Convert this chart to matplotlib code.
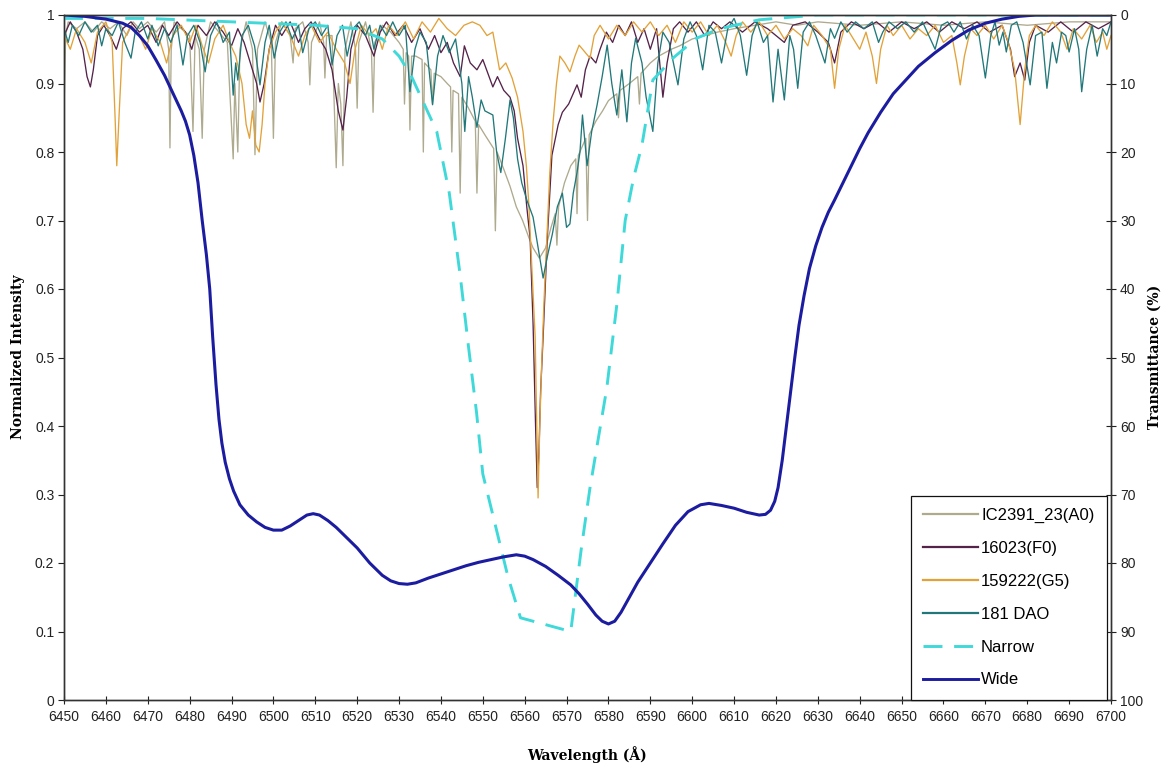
import matplotlib
matplotlib.use("Agg")
import matplotlib.pyplot as plt

# ---------------- data ----------------
# IC2391_23(A0): (wavelength Å, normalized intensity)
ic2391_a0 = [
    (6450, 0.86), (6450.4, 0.97), (6451, 0.99), (6453, 0.98), (6455, 0.99), (6457, 0.975),
    (6459, 0.99), (6461, 0.98), (6463, 0.99), (6465, 0.97), (6466.5, 0.99), (6468, 0.98),
    (6470, 0.99), (6472, 0.975), (6474, 0.99), (6475, 0.95), (6475.3, 0.806), (6475.6, 0.95),
    (6476.3, 0.99), (6478, 0.98), (6480, 0.97), (6480.8, 0.83), (6481.3, 0.97), (6482.3, 0.95),
    (6483, 0.82), (6483.5, 0.95), (6485, 0.99), (6487, 0.975), (6489, 0.96), (6490.4, 0.79),
    (6490.8, 0.9), (6491.5, 0.8), (6492, 0.95), (6493.5, 0.99), (6495, 0.95), (6495.6, 0.796),
    (6496.2, 0.95), (6498, 0.99), (6499.5, 0.96), (6500, 0.82), (6500.5, 0.96), (6502, 0.99),
    (6504, 0.97), (6504.7, 0.93), (6505.2, 0.98), (6507, 0.99), (6508.3, 0.96), (6508.7, 0.898),
    (6509.1, 0.96), (6511, 0.99), (6512, 0.96), (6512.3, 0.908), (6512.7, 0.97), (6514, 0.97),
    (6515, 0.777), (6515.5, 0.9), (6516.1, 0.87), (6516.6, 0.78), (6517.1, 0.95), (6518.5, 0.99),
    (6519.6, 0.95), (6520, 0.864), (6520.4, 0.96), (6522, 0.99), (6523.4, 0.95), (6523.8, 0.858),
    (6524.2, 0.96), (6526, 0.985), (6528, 0.975), (6530, 0.96), (6531, 0.95), (6531.3, 0.87),
    (6531.7, 0.945), (6532.3, 0.94), (6532.6, 0.832), (6533, 0.94), (6534, 0.94), (6535.5, 0.935),
    (6535.8, 0.80), (6536.1, 0.93), (6537.6, 0.92), (6538, 0.87), (6538.4, 0.915), (6540, 0.91),
    (6541.5, 0.9), (6542.3, 0.895), (6542.6, 0.80), (6542.9, 0.89), (6544.2, 0.885), (6544.6, 0.74),
    (6545, 0.88), (6546.5, 0.865), (6548.2, 0.845), (6548.6, 0.74), (6549, 0.84), (6550.5, 0.825),
    (6552.6, 0.805), (6553, 0.685), (6553.4, 0.80), (6555, 0.775), (6556.5, 0.75), (6558, 0.72),
    (6559.5, 0.70), (6561, 0.675), (6562, 0.66), (6563.5, 0.645), (6565, 0.66), (6566.3, 0.69),
    (6567.3, 0.71), (6567.7, 0.664), (6568.1, 0.72), (6569.5, 0.755), (6571, 0.78), (6572.2, 0.79),
    (6572.5, 0.71), (6572.8, 0.795), (6574.6, 0.82), (6575, 0.70), (6575.4, 0.825), (6577, 0.845),
    (6578.6, 0.86), (6580, 0.875), (6582, 0.885), (6582.4, 0.85), (6582.8, 0.89), (6585, 0.9),
    (6587, 0.91), (6587.4, 0.87), (6587.8, 0.915), (6590, 0.93), (6592, 0.94), (6595, 0.95),
    (6597, 0.955), (6600, 0.965), (6603, 0.97), (6606, 0.975), (6610, 0.98), (6615, 0.985),
    (6620, 0.99), (6625, 0.985), (6630, 0.99), (6640, 0.985), (6650, 0.99), (6660, 0.985),
    (6670, 0.99), (6680, 0.985), (6690, 0.99), (6700, 0.99),
]

# 16023(F0)
hd16023_f0 = [
    (6450, 0.97), (6451.5, 0.99), (6453, 0.975), (6454.5, 0.95), (6455.5, 0.91), (6456.3, 0.895),
    (6457, 0.92), (6458, 0.97), (6459.5, 0.985), (6461, 0.97), (6462.5, 0.95), (6464, 0.98),
    (6466, 0.99), (6468, 0.975), (6470, 0.985), (6472, 0.96), (6473.5, 0.985), (6475, 0.97),
    (6477, 0.99), (6479, 0.975), (6480.5, 0.95), (6482, 0.985), (6484, 0.97), (6486, 0.99),
    (6488, 0.975), (6490, 0.955), (6491.5, 0.98), (6493, 0.96), (6494.5, 0.93), (6496, 0.9),
    (6496.8, 0.873), (6497.8, 0.9), (6499, 0.95), (6500.5, 0.985), (6502, 0.97), (6504, 0.99),
    (6506, 0.96), (6507.5, 0.98), (6509, 0.99), (6511, 0.965), (6512.5, 0.95), (6514, 0.92),
    (6515.5, 0.86), (6516.6, 0.832), (6517.5, 0.88), (6518.5, 0.95), (6520, 0.985), (6522, 0.97),
    (6524, 0.94), (6525.5, 0.975), (6527, 0.99), (6529, 0.97), (6531, 0.985), (6533, 0.96),
    (6535, 0.98), (6537, 0.95), (6538.5, 0.97), (6540, 0.945), (6541.5, 0.96), (6543, 0.93),
    (6544.6, 0.91), (6545.6, 0.955), (6547, 0.93), (6548.6, 0.92), (6550, 0.935), (6551.5, 0.91),
    (6552.4, 0.895), (6553.5, 0.91), (6555, 0.89), (6556.5, 0.88), (6557.5, 0.86), (6558.3, 0.82),
    (6559.6, 0.78), (6560.5, 0.72), (6561.3, 0.674), (6562, 0.55), (6562.6, 0.4), (6563, 0.31),
    (6563.4, 0.36), (6563.8, 0.45), (6564.4, 0.53), (6565.4, 0.674), (6566.5, 0.795), (6568, 0.84),
    (6569, 0.858), (6570.5, 0.87), (6572.5, 0.898), (6573.5, 0.88), (6574.5, 0.92), (6575.6, 0.94),
    (6577, 0.93), (6578, 0.95), (6579.5, 0.975), (6581, 0.96), (6582.5, 0.985), (6584, 0.97),
    (6585.5, 0.99), (6587, 0.96), (6588.5, 0.98), (6590, 0.95), (6591.5, 0.98), (6593, 0.88),
    (6594, 0.93), (6595.5, 0.98), (6597, 0.99), (6599, 0.975), (6601, 0.99), (6603, 0.97),
    (6605, 0.99), (6607, 0.98), (6609, 0.99), (6612, 0.975), (6615, 0.99), (6618, 0.98),
    (6620, 0.97), (6622, 0.96), (6624, 0.985), (6627, 0.99), (6630, 0.975), (6632.5, 0.96),
    (6634, 0.93), (6635.5, 0.975), (6638, 0.99), (6641, 0.98), (6644, 0.99), (6647, 0.975),
    (6650, 0.99), (6653, 0.98), (6656, 0.99), (6659, 0.975), (6662, 0.99), (6665, 0.98),
    (6668, 0.99), (6671, 0.975), (6674, 0.985), (6676, 0.95), (6677, 0.91), (6678.3, 0.93),
    (6679.4, 0.905), (6680.5, 0.96), (6682, 0.985), (6685, 0.975), (6688, 0.99), (6691, 0.975),
    (6694, 0.99), (6697, 0.98), (6700, 0.99),
]

# 159222(G5)
hd159222_g5 = [
    (6450, 0.97), (6451.5, 0.95), (6453, 0.98), (6455, 0.96), (6456.5, 0.93), (6458, 0.975),
    (6460, 0.99), (6461.5, 0.96), (6462.2, 0.85), (6462.6, 0.78), (6463.2, 0.86), (6464, 0.96),
    (6466, 0.985), (6468, 0.97), (6469.5, 0.95), (6471, 0.98), (6473, 0.96), (6474.5, 0.93),
    (6476, 0.97), (6478, 0.985), (6480, 0.96), (6481.5, 0.985), (6483, 0.955), (6484.5, 0.93),
    (6486, 0.965), (6488, 0.985), (6489.5, 0.96), (6491, 0.94), (6492.5, 0.9), (6493.5, 0.84),
    (6494.3, 0.82), (6495, 0.86), (6495.8, 0.81), (6496.6, 0.80), (6497.3, 0.84), (6498, 0.9),
    (6499, 0.95), (6500.5, 0.975), (6502, 0.99), (6504, 0.97), (6506, 0.94), (6507.5, 0.97),
    (6509, 0.985), (6511, 0.96), (6513, 0.975), (6515, 0.95), (6517, 0.93), (6518.3, 0.90),
    (6519.5, 0.95), (6521, 0.985), (6523, 0.97), (6524.5, 0.98), (6526, 0.95), (6527.5, 0.985),
    (6529.5, 0.97), (6531.5, 0.99), (6533.5, 0.965), (6535.5, 0.99), (6537.5, 0.975),
    (6539.5, 0.995), (6541.5, 0.98), (6543.5, 0.97), (6545.5, 0.985), (6547.5, 0.99),
    (6549.3, 0.985), (6551, 0.97), (6552.4, 0.975), (6554, 0.92), (6555.5, 0.93), (6557, 0.908),
    (6558.3, 0.88), (6559.6, 0.83), (6560.4, 0.78), (6561, 0.723), (6561.8, 0.62), (6562.5, 0.53),
    (6563.2, 0.295), (6563.6, 0.40), (6564, 0.48), (6564.6, 0.58), (6565.3, 0.674), (6566, 0.77),
    (6566.8, 0.845), (6567.6, 0.9), (6568.4, 0.94), (6569.6, 0.93), (6570.8, 0.917), (6572, 0.94),
    (6573, 0.956), (6574.5, 0.945), (6575.6, 0.937), (6576.6, 0.97), (6578, 0.985), (6580, 0.965),
    (6582, 0.985), (6584, 0.97), (6586, 0.99), (6588, 0.975), (6590, 0.99), (6592, 0.97),
    (6594, 0.985), (6596, 0.96), (6598, 0.99), (6600, 0.975), (6602, 0.99), (6604, 0.97),
    (6606, 0.985), (6608, 0.96), (6609.3, 0.94), (6610.5, 0.97), (6612, 0.99), (6614, 0.975),
    (6616, 0.99), (6618, 0.97), (6620, 0.985), (6622, 0.965), (6624, 0.98), (6626, 0.97),
    (6627.6, 0.955), (6629, 0.985), (6631, 0.97), (6633, 0.95), (6634, 0.893), (6635, 0.95),
    (6636.5, 0.985), (6638, 0.97), (6640, 0.95), (6641.5, 0.975), (6643, 0.94), (6644, 0.90),
    (6645, 0.95), (6646.5, 0.985), (6648, 0.97), (6650, 0.985), (6652, 0.965), (6654, 0.98),
    (6656, 0.97), (6658, 0.985), (6660, 0.96), (6662, 0.97), (6663.2, 0.93), (6664, 0.898),
    (6665, 0.94), (6666.5, 0.98), (6668, 0.97), (6670, 0.985), (6672, 0.965), (6674, 0.985),
    (6675.5, 0.96), (6677, 0.92), (6678.3, 0.84), (6679.4, 0.92), (6680.5, 0.97), (6682, 0.985),
    (6684, 0.97), (6686, 0.99), (6688, 0.975), (6689.5, 0.95), (6691, 0.98), (6693, 0.965),
    (6695, 0.985), (6696.5, 0.96), (6698, 0.975), (6699, 0.95), (6700, 0.97),
]

# 181 DAO
dao_181 = [
    (6450, 0.98), (6451, 0.96), (6452, 0.985), (6453.5, 0.97), (6455, 0.99), (6456.5, 0.975),
    (6458, 0.985), (6459, 0.955), (6460, 0.98), (6461.5, 0.97), (6463, 0.99), (6464.5, 0.96),
    (6466, 0.937), (6467, 0.975), (6468.5, 0.99), (6470, 0.965), (6471, 0.985), (6472.5, 0.955),
    (6474, 0.98), (6475.5, 0.96), (6477, 0.985), (6478.4, 0.927), (6479.5, 0.97), (6481, 0.985),
    (6482.5, 0.96), (6483.7, 0.917), (6485, 0.97), (6486.5, 0.99), (6488, 0.96), (6489.5, 0.975),
    (6490.4, 0.883), (6491, 0.93), (6491.5, 0.905), (6492.5, 0.97), (6494, 0.985), (6495.5, 0.955),
    (6496.8, 0.898), (6498, 0.96), (6499, 0.985), (6500.2, 0.937), (6501.5, 0.975), (6503, 0.99),
    (6504.5, 0.965), (6506, 0.985), (6507, 0.945), (6508.5, 0.98), (6510, 0.99), (6511.5, 0.97),
    (6513, 0.985), (6514, 0.927), (6515.2, 0.97), (6516.5, 0.985), (6517.6, 0.94), (6519, 0.98),
    (6520.5, 0.99), (6522, 0.97), (6523, 0.985), (6524, 0.95), (6525.5, 0.985), (6527, 0.97),
    (6528.5, 0.99), (6530, 0.97), (6531.5, 0.985), (6532.6, 0.888), (6533.8, 0.95), (6535, 0.975),
    (6536.5, 0.96), (6538, 0.869), (6539.2, 0.94), (6540.5, 0.97), (6542, 0.945), (6543.5, 0.965),
    (6545, 0.9), (6545.7, 0.83), (6546.6, 0.91), (6547.5, 0.88), (6548.6, 0.836), (6549.6, 0.876),
    (6550.5, 0.86), (6552.4, 0.854), (6553.3, 0.8), (6554.3, 0.77), (6555.4, 0.82), (6556.5, 0.876),
    (6557.3, 0.85), (6558.3, 0.79), (6559.3, 0.755), (6560.5, 0.73), (6562, 0.705), (6563.2, 0.66),
    (6564.4, 0.616), (6565.5, 0.65), (6566.6, 0.68), (6567.8, 0.72), (6569, 0.74), (6570, 0.69),
    (6570.8, 0.695), (6571.6, 0.74), (6572.5, 0.77), (6573.2, 0.80), (6573.8, 0.854), (6574.9, 0.78),
    (6576, 0.83), (6577.3, 0.869), (6578.5, 0.91), (6579.7, 0.956), (6580.8, 0.9), (6582, 0.854),
    (6583.2, 0.92), (6584.4, 0.844), (6585.5, 0.93), (6586.5, 0.966), (6588, 0.93), (6589, 0.88),
    (6590.6, 0.83), (6591.8, 0.93), (6593, 0.975), (6594.5, 0.96), (6596.6, 0.898), (6598, 0.965),
    (6599.5, 0.99), (6601, 0.97), (6602.5, 0.92), (6604, 0.985), (6605.5, 0.975), (6607, 0.93),
    (6608.5, 0.98), (6610, 0.995), (6611.5, 0.97), (6613, 0.912), (6614.3, 0.97), (6615.5, 0.99),
    (6617, 0.96), (6618, 0.97), (6619.3, 0.873), (6620.5, 0.95), (6622, 0.876), (6623.3, 0.97),
    (6624.2, 0.95), (6625.2, 0.893), (6626.5, 0.975), (6628, 0.99), (6629.5, 0.97), (6631.7, 0.93),
    (6633, 0.98), (6634, 0.966), (6635.5, 0.99), (6637, 0.975), (6639, 0.99), (6641, 0.98),
    (6643, 0.99), (6644.5, 0.96), (6645.5, 0.975), (6647, 0.99), (6649, 0.98), (6651, 0.99),
    (6653, 0.975), (6655, 0.99), (6656.5, 0.97), (6658, 0.95), (6659.5, 0.985), (6661, 0.99),
    (6662.5, 0.975), (6664, 0.99), (6665.5, 0.965), (6667, 0.985), (6668.5, 0.97), (6670, 0.908),
    (6671.3, 0.97), (6672.3, 0.99), (6673.3, 0.956), (6674.2, 0.975), (6675, 0.946), (6676.2, 0.985),
    (6677.5, 0.99), (6679, 0.96), (6680.7, 0.898), (6682, 0.97), (6683.5, 0.975), (6684.7, 0.893),
    (6686, 0.96), (6687, 0.93), (6688.2, 0.975), (6689.2, 0.97), (6690, 0.946), (6691.3, 0.98),
    (6692.3, 0.95), (6693, 0.888), (6694.2, 0.95), (6695.5, 0.985), (6696.7, 0.94), (6698, 0.98),
    (6699, 0.97), (6700, 0.99),
]

# Filters: (wavelength Å, transmittance %) on the reversed right axis
narrow_filter = [
    (6450, 0.5), (6470, 0.5), (6490, 1), (6510, 1.5), (6520, 2), (6526, 3.5), (6530, 6),
    (6533, 9), (6536, 13), (6539, 17), (6542, 26), (6544.6, 38), (6546.5, 48), (6548.5, 58),
    (6550, 67), (6552, 72), (6554, 77), (6556, 82), (6559, 88), (6571, 90), (6573.5, 78),
    (6575.6, 69), (6579.6, 54.5), (6582, 42.3), (6584, 30), (6586, 23.8), (6588, 19),
    (6590.6, 9.5), (6595.4, 6.3), (6601, 3.4), (6606.6, 2), (6616, 0.7), (6630, 0), (6700, 0),
]

wide_filter = [
    (6450, 0), (6455, 0.2), (6460, 0.6), (6464, 1.2), (6466, 1.8), (6468, 3.0), (6470, 4.5),
    (6472, 6.6), (6474, 8.8), (6476, 11.4), (6477, 12.7), (6478, 14), (6479, 15.5),
    (6480, 17.5), (6481, 20.5), (6482, 24.5), (6483, 30), (6484, 35), (6484.8, 40),
    (6485.5, 47), (6486.3, 54), (6487, 59), (6487.7, 62.5), (6488.5, 65.3), (6489.5, 67.7),
    (6490.5, 69.5), (6492, 71.5), (6494, 73), (6496, 74), (6498, 74.8), (6500, 75.2),
    (6502, 75.2), (6504, 74.6), (6506, 73.8), (6508, 73), (6509.5, 72.8), (6511, 73),
    (6513, 73.8), (6515, 74.8), (6517, 76), (6520, 77.8), (6523, 80), (6526, 81.8), (6528, 82.6),
    (6530, 83), (6532, 83.1), (6534, 82.9), (6537, 82.2), (6540, 81.6), (6543, 81), (6546, 80.4),
    (6549, 79.9), (6552, 79.5), (6555, 79.1), (6558, 78.8), (6560, 79), (6562, 79.5),
    (6565, 80.5), (6568, 81.8), (6571, 83.2), (6573, 84.5), (6575, 86), (6577, 87.6),
    (6578.5, 88.5), (6580, 88.9), (6581.5, 88.5), (6583, 87.2), (6585, 85), (6587, 82.8),
    (6590, 80), (6593, 77.2), (6596, 74.5), (6599, 72.5), (6602, 71.5), (6604, 71.3),
    (6607, 71.6), (6610, 72), (6613, 72.6), (6616, 73), (6617.5, 72.9), (6618.7, 72.3),
    (6619.7, 71), (6620.5, 69), (6621.5, 65), (6622.5, 60), (6623.5, 55), (6624.5, 50),
    (6625.5, 45.3), (6626.7, 41), (6628, 37), (6629.5, 33.7), (6631, 31), (6632.5, 28.8),
    (6634, 27), (6636, 24.5), (6638, 22), (6640, 19.5), (6642, 17.2), (6645, 14.2),
    (6648, 11.5), (6651, 9.5), (6654, 7.5), (6658, 5.5), (6662, 3.7), (6666, 2.2),
    (6670, 1.2), (6674, 0.6), (6678, 0.2), (6682, 0), (6700, 0),
]

series_labels = ["IC2391_23(A0)", "16023(F0)", "159222(G5)", "181 DAO"]
filter_labels = ["Narrow", "Wide"]
x_ticks = list(range(6450, 6701, 10))
y_ticks = [0, 0.1, 0.2, 0.3, 0.4, 0.5, 0.6, 0.7, 0.8, 0.9, 1]
y_tick_labels = ["0", "0.1", "0.2", "0.3", "0.4", "0.5", "0.6", "0.7", "0.8", "0.9", "1"]
t_ticks = list(range(0, 101, 10))

# ---------------- styles ----------------
spec_colors = ["#aeaa8e", "#55234a", "#e2a23a", "#21787a"]
narrow_color = "#3fd9d9"
wide_color = "#1c1ca0"
tick_font = {"family": "Liberation Sans", "size": 10}

W, H = 1170, 772
fig = plt.figure(figsize=(W / 100, H / 100), dpi=100)
L, R, B, T = 64, 1111, 700, 15
ax = fig.add_axes([L / W, 1 - B / H, (R - L) / W, (B - T) / H])

handles = []
for data, lab, col in zip([ic2391_a0, hd16023_f0, hd159222_g5, dao_181], series_labels, spec_colors):
    xs = [p[0] for p in data]
    ys = [p[1] for p in data]
    h, = ax.plot(xs, ys, color=col, lw=0.95, label=lab)
    handles.append(h)

ax.set_xlim(6450, 6700)
ax.set_ylim(0, 1)
ax.set_xticks(x_ticks)
ax.set_xticklabels([str(v) for v in x_ticks], fontdict=tick_font)
ax.set_yticks(y_ticks)
ax.set_yticklabels(y_tick_labels, fontdict=tick_font)
ax.tick_params(axis="x", direction="inout", length=6, width=0.8, pad=4, colors="#222222")
ax.tick_params(axis="y", direction="out", length=4, width=0.8, pad=3, colors="#222222")
for s in ax.spines.values():
    s.set_color("#333333")
    s.set_linewidth(1.0)

ax2 = ax.twinx()
xs = [p[0] for p in narrow_filter]
ys = [p[1] for p in narrow_filter]
hn, = ax2.plot(xs, ys, color=narrow_color, lw=2.1, ls=(0, (6.5, 4)), label=filter_labels[0])
xs = [p[0] for p in wide_filter]
ys = [p[1] for p in wide_filter]
hw, = ax2.plot(xs, ys, color=wide_color, lw=2.2, label=filter_labels[1])
ax2.set_ylim(100, 0)
ax2.set_xlim(6450, 6700)
ax2.set_yticks(t_ticks)
ax2.set_yticklabels([str(v) for v in t_ticks], fontdict=tick_font)
ax2.tick_params(axis="y", direction="inout", length=7, width=0.8, pad=3, colors="#222222")
for s in ax2.spines.values():
    s.set_color("#333333")
    s.set_linewidth(1.0)

leg = ax2.legend(handles + [hn, hw], series_labels + filter_labels,
                 loc="lower right", bbox_to_anchor=(1107 / W, 1 - 700 / H),
                 bbox_transform=fig.transFigure, frameon=True, fancybox=False,
                 edgecolor="#111111", framealpha=1.0, borderpad=0.75, borderaxespad=0,
                 labelspacing=1.07, handlelength=3.3, handletextpad=0.18,
                 prop={"family": "Liberation Sans", "size": 12})
leg.get_frame().set_linewidth(0.9)
for line in leg.get_lines():
    line.set_linewidth(1.6 if line.get_label() not in filter_labels else 2.1)

fig.text(587 / W, 1 - 755 / H, "Wavelength (Å)", ha="center", va="center",
         family="DejaVu Serif", weight="bold", size=10)
fig.text(18 / W, 1 - 357 / H, "Normalized Intensity", ha="center", va="center",
         rotation=90, family="DejaVu Serif", weight="bold", size=10)
fig.text(1155 / W, 1 - 357 / H, "Transmittance (%)", ha="center", va="center",
         rotation=90, family="DejaVu Serif", weight="bold", size=10)

fig.savefig("out.png", dpi=100)
